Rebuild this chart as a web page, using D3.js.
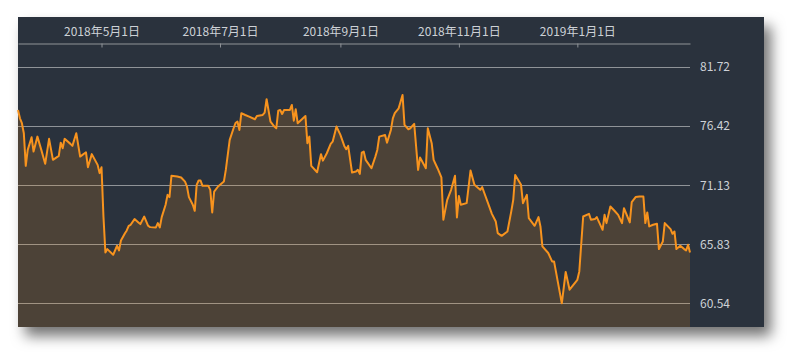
<!DOCTYPE html>
<html>
<head>
<meta charset="utf-8">
<script src="https://cdn.jsdelivr.net/npm/d3@7"></script>
<style>
  body { margin: 0; background: #fff; }
  svg { display: block; }
  .axis text { font-family: "Noto Sans CJK SC", "Noto Sans", sans-serif; font-size: 12px; fill: #cdd1d6; }
</style>
</head>
<body>
<svg id="chart" width="800" height="363"></svg>
<script>
// price series
const dates = [
  "2018-03-19","2018-03-20","2018-03-21","2018-03-22","2018-03-23","2018-03-24","2018-03-26","2018-03-27","2018-03-29","2018-03-31",
  "2018-04-02","2018-04-04","2018-04-06","2018-04-09","2018-04-10","2018-04-11","2018-04-12","2018-04-15","2018-04-16","2018-04-18",
  "2018-04-20","2018-04-23","2018-04-24","2018-04-26","2018-04-29","2018-04-30","2018-05-01","2018-05-02","2018-05-03","2018-05-04",
  "2018-05-07","2018-05-09","2018-05-10","2018-05-11","2018-05-13","2018-05-14","2018-05-15","2018-05-16","2018-05-18","2018-05-20",
  "2018-05-21","2018-05-23","2018-05-25","2018-05-26","2018-05-29","2018-05-30","2018-05-31","2018-06-01","2018-06-03","2018-06-04",
  "2018-06-05","2018-06-06","2018-06-09","2018-06-11","2018-06-13","2018-06-14","2018-06-15","2018-06-17","2018-06-18","2018-06-19",
  "2018-06-20","2018-06-21","2018-06-22","2018-06-25","2018-06-26","2018-06-27","2018-06-28","2018-06-30","2018-07-03","2018-07-04",
  "2018-07-06","2018-07-08","2018-07-09","2018-07-10","2018-07-11","2018-07-12","2018-07-14","2018-07-16","2018-07-19","2018-07-20",
  "2018-07-23","2018-07-24","2018-07-25","2018-07-27","2018-07-29","2018-07-30","2018-07-31","2018-08-01","2018-08-02","2018-08-03",
  "2018-08-06","2018-08-07","2018-08-08","2018-08-09","2018-08-10","2018-08-14","2018-08-15","2018-08-16","2018-08-17","2018-08-20",
  "2018-08-22","2018-08-23","2018-08-25","2018-08-27","2018-08-28","2018-08-30","2018-09-01","2018-09-03","2018-09-04","2018-09-05",
  "2018-09-07","2018-09-09","2018-09-10","2018-09-11","2018-09-12","2018-09-13","2018-09-14","2018-09-17","2018-09-19","2018-09-20",
  "2018-09-21","2018-09-24","2018-09-25","2018-09-27","2018-09-28","2018-09-29","2018-10-01","2018-10-02","2018-10-03","2018-10-04",
  "2018-10-06","2018-10-07","2018-10-09","2018-10-11","2018-10-12","2018-10-15","2018-10-16","2018-10-18","2018-10-19","2018-10-21",
  "2018-10-23","2018-10-24","2018-10-26","2018-10-28","2018-10-30","2018-10-31","2018-11-01","2018-11-02","2018-11-05","2018-11-07",
  "2018-11-09","2018-11-12","2018-11-13","2018-11-14","2018-11-16","2018-11-18","2018-11-20","2018-11-21","2018-11-23","2018-11-26",
  "2018-11-28","2018-11-29","2018-11-30","2018-12-03","2018-12-04","2018-12-06","2018-12-07","2018-12-10","2018-12-12","2018-12-13",
  "2018-12-14","2018-12-17","2018-12-19","2018-12-20","2018-12-22","2018-12-24","2018-12-26","2018-12-28","2019-01-01","2019-01-02",
  "2019-01-04","2019-01-07","2019-01-08","2019-01-10","2019-01-11","2019-01-14","2019-01-15","2019-01-16","2019-01-18","2019-01-20",
  "2019-01-22","2019-01-24","2019-01-25","2019-01-28","2019-01-29","2019-01-31","2019-02-02","2019-02-04","2019-02-05","2019-02-06",
  "2019-02-07","2019-02-09","2019-02-11","2019-02-12","2019-02-14","2019-02-15","2019-02-18","2019-02-19","2019-02-20","2019-02-21",
  "2019-02-23","2019-02-25","2019-02-26","2019-02-27","2019-02-28"
];
const values = [
  77.87,77.12,76.68,75.78,72.86,74.29,75.43,74.14,75.48,74.29,
  73.04,75.28,73.40,73.75,74.94,74.44,75.28,74.83,74.65,75.78,
  73.69,74.08,72.74,73.91,72.95,72.21,72.74,68.32,65.10,65.40,
  64.89,65.70,65.28,66.17,66.80,67.07,67.49,67.58,68.09,67.79,
  67.64,68.32,67.49,67.37,67.34,67.73,67.34,68.27,69.37,70.26,
  70.06,71.97,71.91,71.82,71.45,71.01,70.06,69.37,68.83,71.16,
  71.55,71.55,71.07,71.07,70.71,68.68,70.56,71.01,71.45,72.50,
  75.19,76.23,76.70,76.83,76.08,77.58,77.42,77.27,77.04,77.33,
  77.42,77.63,78.83,76.83,76.38,76.23,77.81,77.87,77.51,77.87,
  77.87,78.32,76.91,77.93,76.68,77.33,74.89,75.48,72.86,72.29,
  73.91,73.33,73.99,74.83,75.03,76.38,75.63,74.65,74.35,74.65,
  72.26,72.35,72.50,72.14,74.05,74.14,73.40,72.65,73.69,74.29,
  75.48,75.63,74.94,76.08,77.12,77.58,78.02,78.62,79.21,76.53,
  76.14,76.23,76.62,72.50,73.60,72.65,76.23,74.89,73.40,72.65,
  71.82,68.03,69.82,70.71,71.97,68.23,70.17,69.37,69.52,72.44,
  71.16,70.71,70.95,70.47,69.52,68.56,67.87,66.83,66.59,66.98,
  68.80,69.82,72.05,71.16,69.52,70.26,68.18,67.49,68.27,67.43,
  65.64,65.05,64.30,64.30,62.42,60.54,63.35,61.76,62.65,63.40,
  68.32,68.56,68.03,68.09,68.27,67.13,68.47,67.73,69.22,68.86,
  68.47,67.73,69.07,67.79,69.61,70.06,70.11,70.11,67.73,68.68,
  67.43,67.58,67.67,65.40,66.08,67.73,67.19,66.77,66.98,65.40,
  65.70,65.40,65.28,65.79,65.10
];
const yTicks = [60.54, 65.83, 71.13, 76.42, 81.72];
const xTicks = ["2018-05-01", "2018-07-01", "2018-09-01", "2018-11-01", "2019-01-01"];

const parse = d3.timeParse("%Y-%m-%d");
const series = dates.map(function(d, i) { return { date: parse(d), value: values[i] }; });

const svg = d3.select("#chart");
const panel = { left: 18, top: 17, right: 764, bottom: 327 };
const plot = { left: 18, top: 43, right: 690, bottom: 327 };

// drop shadow for the dark panel
const defs = svg.append("defs");
const shadow = defs.append("filter").attr("id", "shadow")
    .attr("x", "-10%").attr("y", "-10%").attr("width", "125%").attr("height", "140%");
shadow.append("feDropShadow")
    .attr("dx", 7).attr("dy", 9).attr("stdDeviation", 7)
    .attr("flood-color", "#000").attr("flood-opacity", 0.55);

svg.append("rect")
    .attr("x", panel.left).attr("y", panel.top)
    .attr("width", panel.right - panel.left).attr("height", panel.bottom - panel.top)
    .attr("fill", "#29323c")
    .attr("filter", "url(#shadow)");

let x = d3.scaleTime()
    .domain(d3.extent(series, function(d) { return d.date; }))
    .range([plot.left, plot.right]);

let y = d3.scaleLinear()
    .domain([58.42, 83.87])
    .range([plot.bottom, plot.top]);

// horizontal grid
svg.append("g").selectAll("line")
    .data(yTicks).enter().append("line")
    .attr("x1", plot.left).attr("x2", plot.right)
    .attr("y1", function(d) { return Math.round(y(d)) + 0.5; })
    .attr("y2", function(d) { return Math.round(y(d)) + 0.5; })
    .attr("stroke", "#8f9398")
    .attr("stroke-width", 1.2);

// area under the line
let area = d3.area()
    .x(function(d) { return x(d.date); })
    .y0(plot.bottom)
    .y1(function(d) { return y(d.value); });

svg.append("path")
    .datum(series)
    .attr("d", area)
    .attr("fill", "#f7931e")
    .attr("fill-opacity", 0.17);

let line = d3.line()
    .x(function(d) { return x(d.date); })
    .y(function(d) { return y(d.value); });

svg.append("path")
    .datum(series)
    .attr("d", line)
    .attr("fill", "none")
    .attr("stroke", "#f7931e")
    .attr("stroke-width", 2)
    .attr("stroke-linejoin", "round");

// top date axis
let xAxis = d3.axisTop(x)
    .tickValues(xTicks.map(parse))
    .tickFormat(d3.timeFormat("%Y年%-m月%-d日"))
    .tickSizeInner(-4)
    .tickSizeOuter(0)
    .tickPadding(8);

let gx = svg.append("g")
    .attr("class", "axis")
    .attr("transform", "translate(0," + (plot.top + 0.5) + ")")
    .call(xAxis);
gx.select(".domain").attr("stroke", "#8f9398").attr("stroke-width", 1.2);
gx.selectAll(".tick line").attr("stroke", "#8f9398");

// right value axis
let yAxis = d3.axisRight(y)
    .tickValues(yTicks)
    .tickFormat(d3.format(".2f"))
    .tickSize(0)
    .tickPadding(10);

let gy = svg.append("g")
    .attr("class", "axis")
    .attr("transform", "translate(" + plot.right + ",0)")
    .call(yAxis);
gy.select(".domain").remove();
</script>
</body>
</html>
